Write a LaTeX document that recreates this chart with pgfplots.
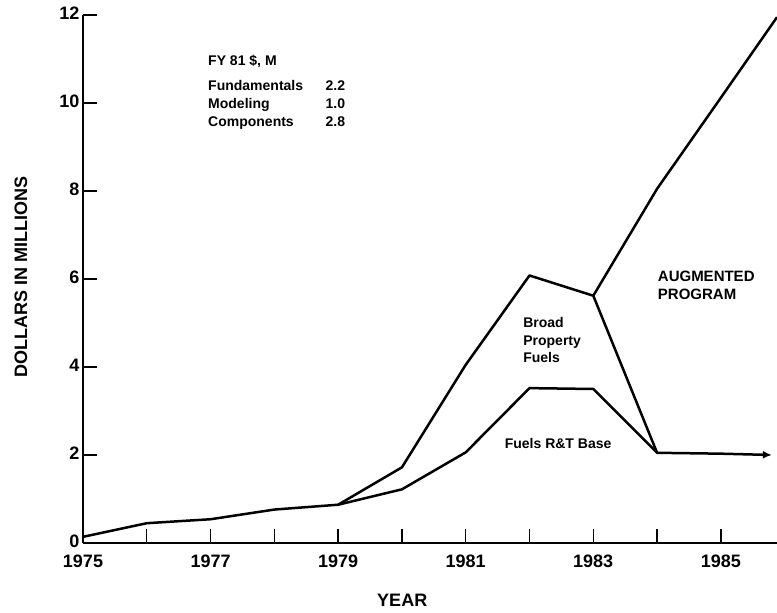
\documentclass[border=0pt]{standalone}
\usepackage{fontspec}
\setmainfont{Liberation Sans}
\usepackage{pgfplots}
\pgfplotsset{compat=1.18}
\usetikzlibrary{arrows.meta}

\begin{document}
\begin{tikzpicture}
\useasboundingbox (0,0) rectangle (777pt,613pt);
\begin{axis}[
  at={(83pt,70pt)}, anchor=south west,
  scale only axis, width=694pt, height=528pt,
  xmin=1975, xmax=1985.88, ymin=0, ymax=12,
  clip=false,
  axis lines*=left,
  axis line style={line width=1.6pt, black},
  xtick={1975,...,1985},
  xticklabels={1975,,1977,,1979,,1981,,1983,,1985},
  ytick={0,2,...,12},
  tick align=inside,
  major tick length=14pt,
  tick style={line width=1.4pt, black},
  /pgf/number format/assume math mode=true,
  tick label style={font=\fontsize{18}{21}\selectfont\bfseries},
  xticklabel style={yshift=-8pt},
  yticklabel style={yshift=2pt},
  xlabel={YEAR},
  ylabel={DOLLARS IN MILLIONS},
  label style={font=\fontsize{18}{21}\selectfont\bfseries},
  xlabel style={at={(axis description cs:0.46,-0.108)}, anchor=center},
  ylabel style={at={(axis description cs:-0.0893,0.504)}, anchor=center},
]
% Fuels R&T Base
\addplot[line width=2.5pt, line join=round, -{Latex[length=9pt,width=8pt]}] coordinates {
  (1975,0.14) (1976,0.45) (1977,0.54) (1978,0.76) (1979,0.87) (1980,1.22)
  (1981,2.06) (1982,3.52) (1983,3.50) (1984,2.05) (1985,2.03) (1985.8,2.0)
};
% Broad Property Fuels
\addplot[line width=2.5pt, line join=round] coordinates {
  (1979,0.87) (1980,1.72) (1981,4.05) (1982,6.08) (1983,5.62) (1984,2.05)
};
% Augmented Program
\addplot[line width=2.5pt, line join=round] coordinates {
  (1983,5.62) (1984,8.05) (1985,10.12) (1985.88,11.95)
};

\begin{scope}[every node/.style={font=\fontsize{14}{16}\selectfont\bfseries, inner sep=0pt, text height=0.72em, text depth=0pt}]
\node[anchor=west] at (axis cs:1976.96,10.93) {FY 81 \$, M};
\node[anchor=west] at (axis cs:1976.96,10.36) {Fundamentals};
\node[anchor=west] at (axis cs:1976.96,9.95) {Modeling};
\node[anchor=west] at (axis cs:1976.96,9.55) {Components};
\node[anchor=west] at (axis cs:1978.80,10.36) {2.2};
\node[anchor=west] at (axis cs:1978.80,9.95) {1.0};
\node[anchor=west] at (axis cs:1978.80,9.55) {2.8};
\node[anchor=west] at (axis cs:1981.90,4.98) {Broad};
\node[anchor=west] at (axis cs:1981.90,4.57) {Property};
\node[anchor=west] at (axis cs:1981.90,4.18) {Fuels};
\node[anchor=west] at (axis cs:1981.61,2.22) {Fuels R\&T Base};
\node[anchor=west, font=\fontsize{15}{17}\selectfont\bfseries] at (axis cs:1984.01,6.02) {AUGMENTED};
\node[anchor=west, font=\fontsize{15}{17}\selectfont\bfseries] at (axis cs:1984.01,5.61) {PROGRAM};
\end{scope}
\end{axis}
\end{tikzpicture}
\end{document}
